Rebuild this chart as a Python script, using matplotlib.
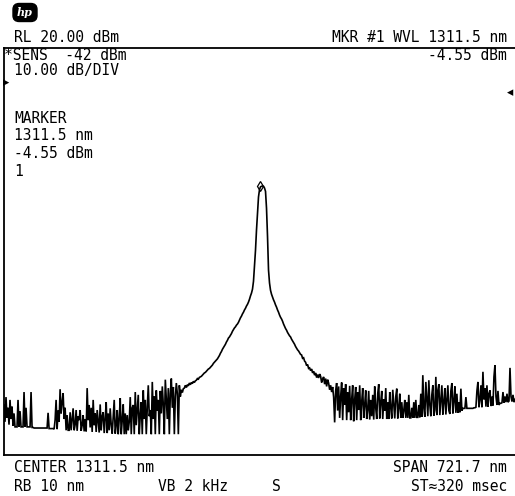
import numpy as np
import matplotlib
matplotlib.use("Agg")
import matplotlib.pyplot as plt
from matplotlib.patches import FancyBboxPatch

# ---- instrument settings ----
center_nm = 1311.5
span_nm = 721.7
ref_level_dbm = 20.0
bottom_dbm = -52.4
marker_nm = 1311.5
marker_dbm = -4.55

# ---- trace (dBm), uniformly sampled across the span, left to right ----
left_noise_dbm = [
    -43.5, -46.5, -42.1, -45.8, -44.0, -47.0, -42.6, -46.0, -43.8, -47.2, -45.0, -47.4,
    -47.4, -47.4, -42.6, -47.4, -44.6, -47.4, -47.4, -47.4, -41.2, -47.4, -44.0, -47.4,
    -47.4, -47.4, -47.4, -41.2, -47.5, -47.5,
    -47.6, -47.6, -47.6, -47.6, -47.6, -47.6, -47.6, -47.6, -47.6, -47.6, -47.6, -47.6,
    -47.6, -47.6, -44.9, -47.7, -47.7, -47.7, -47.7, -47.7,
    -47.8, -46.2, -42.6, -47.8, -44.5, -46.5, -40.7, -45.0, -43.0, -41.4, -46.0, -44.0,
    -48.0, -45.3, -48.0, -48.0, -44.8, -48.0, -46.0, -44.1, -48.0, -47.0,
    -44.4, -48.1, -45.5, -46.2, -44.4, -48.1, -47.1, -45.3, -48.2, -46.0, -48.2, -40.5,
    -46.2, -43.5, -47.5, -44.0, -48.3, -42.6, -47.1, -45.0, -48.3, -44.4, -46.5, -48.4,
    -43.4, -48.0, -45.5, -44.8, -48.5, -46.0, -43.0, -48.5, -45.0, -48.0, -44.1, -47.0,
    -48.6, -45.5, -42.6, -48.6, -47.1, -44.4, -48.7, -46.0, -42.3, -48.7, -46.2, -43.4,
    -48.7, -45.0, -48.7, -45.3, -48.0, -46.5,
    -42.1, -48.7, -44.0, -43.5, -48.7, -41.2, -47.1, -44.5, -41.7, -48.7, -45.3, -43.0,
    -48.7, -40.9, -46.0, -42.6, -48.7, -44.0, -40.0, -45.5, -44.4, -48.7, -39.4, -46.0,
    -42.0, -48.7, -40.9, -44.5, -42.6, -48.7,
    -41.0, -45.0, -40.2, -43.5, -48.7, -39.0, -42.5, -46.0, -40.5, -48.7, -41.5, -38.8,
    -44.0, -40.3, -48.7, -42.0, -39.6, -41.5, -48.7, -40.0, -42.0, -40.8, -41.3, -40.6,
]
rise_dbm = [
    -40.5, -40.0, -40.4, -39.9, -40.1, -39.6, -39.9, -39.5, -39.7, -39.3,
    -39.5, -39.2, -39.1, -38.8, -38.9, -38.6, -38.5, -38.4, -38.2, -38.0,
    -37.8, -37.7, -37.5, -37.3, -37.1, -37.0, -36.8, -36.6, -36.4, -36.1,
    -35.9, -35.7, -35.5, -35.3, -35.0, -34.7, -34.3, -34.0, -33.6, -33.3,
    -33.0, -32.7, -32.3, -32.0, -31.6, -31.4, -31.1, -30.8, -30.4, -30.1,
    -29.8, -29.6, -29.3, -29.1, -28.8, -28.4, -28.0, -27.7, -27.3, -27.0,
    -26.6, -26.3, -25.9, -25.6, -25.2, -24.7, -24.1, -23.6, -22.9, -21.5,
]
peak_dbm = [
    -18.6, -16.0, -12.4, -9.5, -6.5, -5.2, -4.7, -4.6, -4.55, -4.6,
    -4.9, -5.5, -8.5, -13.5, -19.5, -21.8,
]
fall_dbm = [
    -23.1, -23.8, -24.3, -24.8, -25.2, -25.7, -26.1, -26.6, -27.0, -27.5,
    -27.9, -28.2, -28.6, -29.1, -29.5, -29.9, -30.2, -30.6, -30.9, -31.2,
    -31.4, -31.8, -32.1, -32.4, -32.7, -33.1, -33.4, -33.7, -33.9, -34.2,
    -34.5, -34.6, -35.2, -35.1, -35.7, -35.9, -36.5, -36.3, -37.0, -36.9,
    -37.4, -37.1, -37.8, -37.5, -38.2, -37.8, -38.6, -38.1, -38.7, -38.0,
    -38.4, -39.5, -38.9, -38.5, -39.8, -38.8, -40.2, -39.0, -39.6, -40.8,
    -40.0, -41.2, -40.3, -42.1,
]
right_noise_dbm = [
    -46.6, -41.0, -39.6, -44.5, -40.2, -45.8, -42.0, -39.5, -46.2, -40.5,
    -43.5, -39.8, -46.2, -41.2, -44.8, -40.1, -46.2, -42.5, -40.0, -46.4,
    -42.6, -40.3, -46.2, -41.2, -44.4, -40.0, -46.2, -43.0, -40.5, -45.8,
    -43.5, -40.9, -46.0, -44.4, -41.0, -46.1, -42.6, -45.5, -41.7, -46.1,
    -40.2, -44.0, -46.0, -41.5, -39.8, -45.9, -43.0, -41.0, -46.0, -42.5,
    -44.5, -40.5, -46.0, -43.0, -46.0, -41.2, -44.0, -45.9, -40.8, -43.5,
    -45.9, -42.0, -40.6, -45.9, -44.0, -41.5, -45.8, -43.0, -45.8, -44.5,
    -42.6, -45.8, -43.0, -45.8, -41.7, -45.8, -45.8, -44.0, -45.8, -43.0,
    -45.8, -42.6, -45.7, -45.7, -43.5, -45.7, -41.5, -45.6, -38.2, -44.0,
    -45.6, -39.4, -42.6, -45.5, -39.1, -43.5, -45.5, -41.7, -40.0, -45.4,
    -44.4, -38.5, -45.3, -40.9, -39.8, -45.3, -42.6, -40.0, -45.2, -43.0,
    -40.5, -45.2, -42.6, -40.0, -44.5, -45.1, -41.0, -39.6, -45.0, -42.8,
    -40.2, -44.9, -41.5, -44.9, -43.0, -44.8, -40.6, -44.5,
    -44.1, -44.1, -44.1, -42.1, -44.1, -44.1, -44.1, -44.1, -44.1, -44.1,
    -44.1, -44.0, -44.0, -43.9, -41.0, -39.4, -43.9, -42.6, -40.0, -43.9,
    -37.6, -42.5, -40.5, -43.8, -40.0, -43.8, -41.5, -40.9, -43.7, -42.0,
    -43.6, -38.5, -36.4, -42.0, -43.5, -41.0, -43.5, -43.2, -43.2, -43.1,
    -41.2, -43.1, -42.0, -43.0, -41.5, -43.0, -42.8, -36.9, -42.0, -42.9,
    -41.7, -43.0, -42.5,
]

power_dbm = left_noise_dbm + rise_dbm + peak_dbm + fall_dbm + right_noise_dbm

start_nm = center_nm - span_nm / 2
stop_nm = center_nm + span_nm / 2
wavelength_nm = np.linspace(start_nm, stop_nm, len(power_dbm))

W, H = 515, 496
fig = plt.figure(figsize=(W / 100, H / 100), dpi=100)
fig.patch.set_facecolor("white")

ax = fig.add_axes([4 / W, 41 / H, 511 / W, 407 / H])
ax.plot(wavelength_nm, power_dbm, color="black", lw=1.2, solid_joinstyle="miter")
ax.plot([marker_nm], [marker_dbm], marker="d", ms=5, mfc="none", mec="black",
        mew=0.9)
ax.set_xlim(start_nm, stop_nm)
ax.set_ylim(bottom_dbm, ref_level_dbm)
ax.set_xticks([])
ax.set_yticks([])
for side in ["left", "top", "bottom"]:
    ax.spines[side].set_linewidth(1.3)
ax.spines["right"].set_visible(False)

FONT = "DejaVu Sans Mono"
FS = 10.5


def ftext(x, y, s, ha="left", size=FS):
    fig.text(x / W, 1 - y / H, s, ha=ha, va="baseline", fontsize=size,
             family=FONT, color="black")


# HP logo
logo = FancyBboxPatch((13 / W, 1 - 21.5 / H), 24 / W, 18 / H,
                      boxstyle="round,pad=0,rounding_size=0.012",
                      transform=fig.transFigure, facecolor="black",
                      edgecolor="black")
fig.patches.append(logo)
fig.text(25 / W, 1 - 12.5 / H, "hp", ha="center", va="center", fontsize=8,
         color="white", style="italic", weight="bold", family="DejaVu Serif")

ftext(14, 42, f"RL {ref_level_dbm:.2f} dBm")
ftext(507, 42, f"MKR #1 WVL {marker_nm} nm", ha="right")
ftext(4, 60, "*SENS  -42 dBm")
ftext(507, 60, f"{marker_dbm} dBm", ha="right")
ftext(14, 75, "10.00 dB/DIV")
fig.text(3 / W, 1 - 86 / H, "\u25b8", fontsize=9, family="DejaVu Sans",
         va="baseline", ha="left")
fig.text(513 / W, 1 - 96 / H, "\u25c2", fontsize=9, family="DejaVu Sans",
         va="baseline", ha="right")
ftext(14, 123, "MARKER")
ftext(14, 140, f"{marker_nm} nm")
ftext(14, 158, f"{marker_dbm} dBm")
ftext(14, 176, "1")

ftext(14, 472, f"CENTER {center_nm} nm")
ftext(507, 472, f"SPAN {span_nm} nm", ha="right")
ftext(14, 491, "RB 10 nm")
ftext(158, 491, "VB 2 kHz")
ftext(272, 491, "S")
ftext(507, 491, "ST\u2248320 msec", ha="right")

fig.savefig("out.png", dpi=100, facecolor="white")
